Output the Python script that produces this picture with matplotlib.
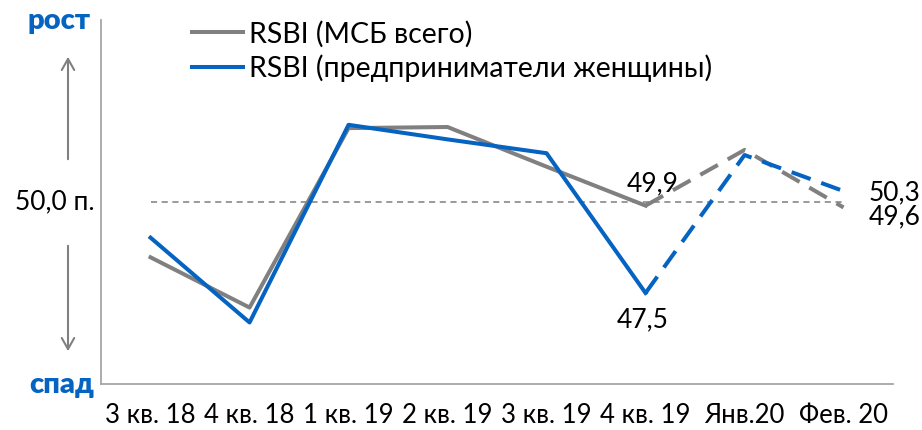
import matplotlib
matplotlib.use('Agg')
import matplotlib.pyplot as plt

plt.rcParams['font.family'] = ['Lato', 'DejaVu Sans']

# data
periods = ['3 кв. 18', '4 кв. 18', '1 кв. 19', '2 кв. 19', '3 кв. 19', '4 кв. 19', 'Янв.20', 'Фев. 20']
rsbi_total = [48.48, 47.10, 52.03, 52.06, 50.97, 49.9, 51.43, 49.85]
rsbi_women = [49.02, 46.69, 52.12, 51.72, 51.34, 47.5, 51.29, 50.3]
split = 5  # from 4 кв. 19 the lines are dashed (estimate)

gray = '#808080'
blue = '#0563C1'

fig = plt.figure(figsize=(9.22, 4.30), dpi=100)
ax = fig.add_axes([0.1096, 0.107, 0.859, 0.8465])

x = list(range(len(periods)))
ax.plot(x[:split + 1], rsbi_total[:split + 1], color=gray, lw=2.9, label='RSBI (МСБ всего)')
ax.plot(x[:split + 1], rsbi_women[:split + 1], color=blue, lw=2.9, label='RSBI (предприниматели женщины)')
ax.plot(x[split:], rsbi_total[split:], color=gray, lw=2.9, dashes=(5, 2.8))
ax.plot(x[split:], rsbi_women[split:], color=blue, lw=2.9, dashes=(5, 2.8))

# 50-point threshold
ax.plot([x[0], x[-1]], [50, 50], color='#7f7f7f', lw=1.1, dashes=(4, 3), zorder=0)

ax.set_xlim(-0.5, len(periods) - 0.5)
ax.set_ylim(45, 55)
ax.set_xticks(x)
ax.set_xticklabels(periods, fontsize=18.5)
ax.tick_params(axis='x', length=0, pad=14)
ax.set_yticks([])
for s in ['top', 'right']:
    ax.spines[s].set_visible(False)
for s in ['left', 'bottom']:
    ax.spines[s].set_color('#a6a6a6')
    ax.spines[s].set_linewidth(1.3)

# point labels
fs = 19
ax.annotate('49,9', (x[5], rsbi_total[5]), xytext=(5, 16), textcoords='offset points',
            ha='center', va='center', fontsize=fs)
ax.annotate('47,5', (x[5], rsbi_women[5]), xytext=(-2, -19), textcoords='offset points',
            ha='center', va='center', fontsize=fs)
ax.annotate('50,3', (x[7], rsbi_women[7]), xytext=(18, -1), textcoords='offset points',
            ha='left', va='center', fontsize=fs)
ax.annotate('49,6', (x[7], rsbi_total[7]), xytext=(18, -7), textcoords='offset points',
            ha='left', va='center', fontsize=fs)

# left side annotations
fig.text(59 / 922, 1 - 21 / 430, 'рост', color=blue, fontsize=21, fontweight='heavy',
         ha='center', va='center')
fig.text(62 / 922, 1 - 385 / 430, 'спад', color=blue, fontsize=21, fontweight='heavy',
         ha='center', va='center')
fig.text(55 / 922, 1 - 202 / 430, '50,0 п.', fontsize=19, ha='center', va='center')
ax.annotate('', xy=(68 / 922, 1 - 54 / 430), xytext=(68 / 922, 1 - 162 / 430),
            xycoords='figure fraction', textcoords='figure fraction',
            arrowprops=dict(arrowstyle='->,head_length=0.8,head_width=0.45', color=gray, lw=1.5))
ax.annotate('', xy=(68 / 922, 1 - 354 / 430), xytext=(68 / 922, 1 - 243 / 430),
            xycoords='figure fraction', textcoords='figure fraction',
            arrowprops=dict(arrowstyle='->,head_length=0.8,head_width=0.45', color=gray, lw=1.5))

ax.legend(loc='upper left', bbox_to_anchor=(0.1, 1.03), frameon=False, fontsize=20.5,
          handlelength=1.8, handletextpad=0.2, labelspacing=0.25, borderaxespad=0)

fig.savefig('out.png', dpi=100)
